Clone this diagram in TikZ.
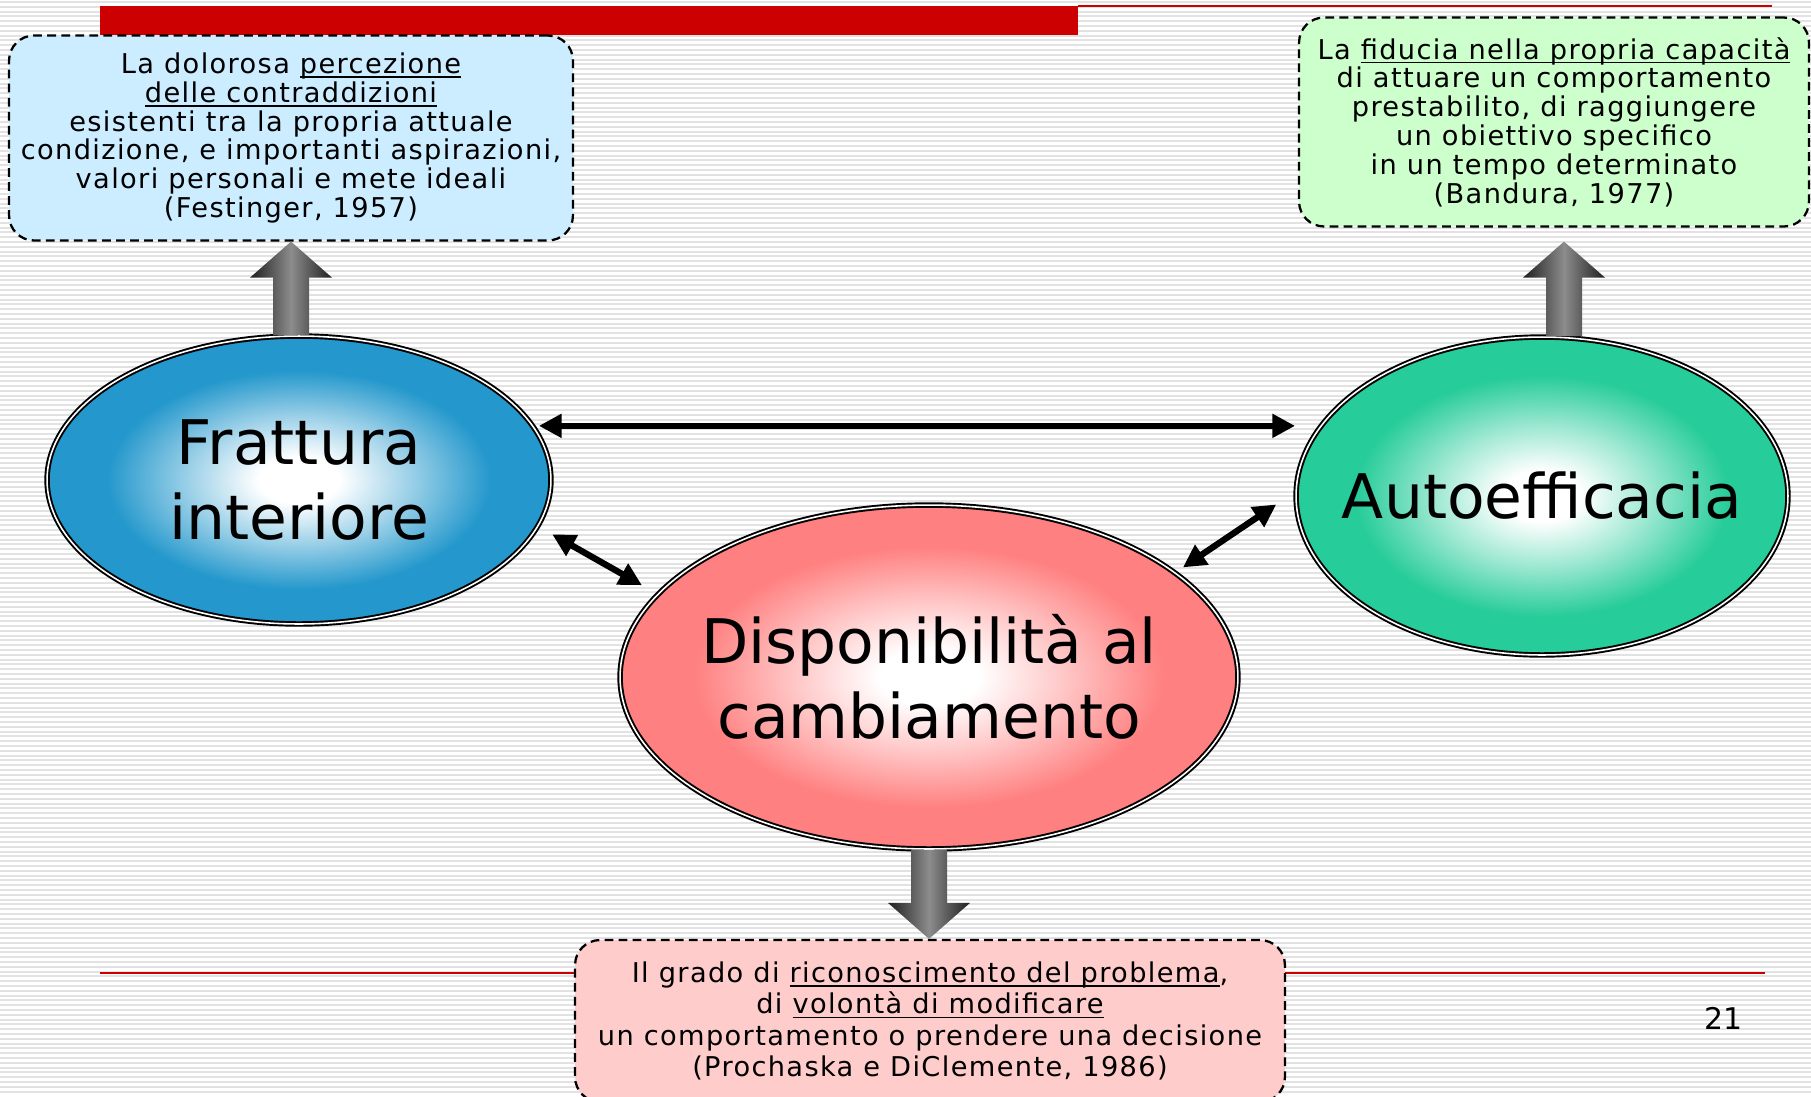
\documentclass[tikz,border=0pt]{standalone}
\usepackage{fontspec}
\setmainfont{DejaVu Sans}
\newfontfamily\boxfont{DejaVu Sans}[LetterSpace=5]
\usepackage{xcolor}
\usepackage{tikz}
\usetikzlibrary{shapes.geometric,arrows.meta,positioning,calc}
\definecolor{deckred}{RGB}{204,0,0}
\definecolor{fratblue}{RGB}{36,152,204}
\definecolor{autogreen}{RGB}{38,204,153}
\definecolor{disppink}{RGB}{255,128,128}
\definecolor{boxblue}{RGB}{204,236,255}
\definecolor{boxgreen}{RGB}{204,255,204}
\definecolor{boxpink}{RGB}{255,204,204}
\definecolor{stripegray}{RGB}{226,226,226}
\pgfdeclareradialshading{glowblue}{\pgfpoint{0bp}{0bp}}{color(0bp)=(white); color(4bp)=(white); color(11bp)=(fratblue!45!white); color(19bp)=(fratblue); color(50bp)=(fratblue)}
\pgfdeclareradialshading{glowgreen}{\pgfpoint{0bp}{0bp}}{color(0bp)=(white); color(4bp)=(white); color(11bp)=(autogreen!45!white); color(19bp)=(autogreen); color(50bp)=(autogreen)}
\pgfdeclareradialshading{glowpink}{\pgfpoint{0bp}{0bp}}{color(0bp)=(white); color(4bp)=(white); color(11bp)=(disppink!45!white); color(19bp)=(disppink); color(50bp)=(disppink)}
\newsavebox{\ulbox}
\newcommand{\undl}[1]{\sbox{\ulbox}{#1}\rlap{\rule[-2.4pt]{\wd\ulbox}{0.8pt}}\usebox{\ulbox}}
\newcommand{\blockarrow}[2]{%
  \shade[blockarrow] let \p1=(#1), \p2=(#2), \p3=($(#2)!0.72cm!(#1)$) in
    (\x1-0.36cm,\y1) -- (\x1-0.36cm,\y3) -- (\x1-0.82cm,\y3) -- (\x2,\y2)
    -- (\x1+0.82cm,\y3) -- (\x1+0.36cm,\y3) -- (\x1+0.36cm,\y1) -- cycle;}

\begin{document}
\begin{tikzpicture}[
    x=0.02cm, y=-0.02cm,
    stripe/.style={stripegray, line width=1.1pt},
    quotebox/.style={rectangle, rounded corners=0.5cm, draw=black, line width=1.3pt, dash pattern=on 5pt off 3pt, align=center, inner sep=0pt, font=\boxfont\fontsize{15.5}{16.4}\selectfont},
    bubble/.style={ellipse, draw=black, line width=1.1pt, double=white, double distance=0.9pt, inner xsep=-3cm, inner ysep=-1cm, align=center, shade, font=\fontsize{35}{42.5}\selectfont},
    blockarrow/.style={left color=black!88, right color=black!88, middle color=black!45},
    dblarrow/.style={{Triangle[length=13pt,width=13pt]}-{Triangle[length=13pt,width=13pt]}, line width=3.6pt}
]
    % Slide background
    \useasboundingbox (0,0) rectangle (1811,1096);
    \fill[white] (0,0) rectangle (1811,1096);
    \foreach \sy in {2,6.8,...,1096}
        \draw[stripe] (0,\sy) -- (1811,\sy);
    \fill[deckred] (100,6) rectangle (1078,35);
    \draw[deckred, line width=1.1pt] (1078,6) -- (1772,6);
    \draw[deckred, line width=0.8pt] (100,973) -- (1765,973);

    % Definition boxes
    \node[quotebox, fill=boxblue, minimum width=11.28cm, minimum height=4.1cm] (festbox) at (291,138)
        {La dolorosa \undl{percezione}\\\undl{delle contraddizioni}\\esistenti tra la propria attuale\\condizione, e importanti aspirazioni,\\valori personali e mete ideali\\(Festinger, 1957)};
    \node[quotebox, fill=boxgreen, minimum width=10.2cm, minimum height=4.18cm] (bandbox) at (1554,122)
        {La \undl{fiducia nella propria capacità}\\di attuare un comportamento\\prestabilito, di raggiungere\\un obiettivo specifico\\in un tempo determinato\\(Bandura, 1977)};
    \node[quotebox, fill=boxpink, minimum width=14.2cm, minimum height=3.24cm, font=\boxfont\fontsize{15.5}{17.9}\selectfont] (probbox) at (930,1021)
        {Il grado di \undl{riconoscimento del problema},\\di \undl{volontà di modificare}\\un comportamento o prendere una decisione\\(Prochaska e DiClemente, 1986)};

    % Concepts
    \node[bubble, shading=glowblue, minimum width=10.08cm, minimum height=5.76cm] (frat) at (299,480) {Frattura\\interiore};
    \node[bubble, shading=glowpink, minimum width=12.36cm, minimum height=6.88cm] (disp) at (929,677) {Disponibilità al\\cambiamento};
    \node[bubble, shading=glowgreen, minimum width=9.84cm, minimum height=6.36cm] (auto) at (1542,496) {Autoefficacia};

    % Block arrows to the definitions
    \coordinate (bandtip) at ($(bandbox.south)+(10,0)$);
    \blockarrow{festbox.south |- frat.north}{festbox.south}
    \blockarrow{bandtip |- auto.north}{bandtip |- festbox.south}
    \blockarrow{disp.south}{disp.south |- probbox.north}

    % Links
    \draw[dblarrow, shorten <=3pt] (frat.13) -- (frat.13 -| auto.west);
    \draw[dblarrow, shorten <=9pt, shorten >=10pt] (frat.-11) -- (disp.163);
    \draw[dblarrow, shorten <=5pt, shorten >=13pt] (disp.23) -- (auto.179);

    % Page number
    \node[font=\fontsize{17}{20}\selectfont] (pagenum) at (1723,1018) {21};
\end{tikzpicture}
\end{document}
